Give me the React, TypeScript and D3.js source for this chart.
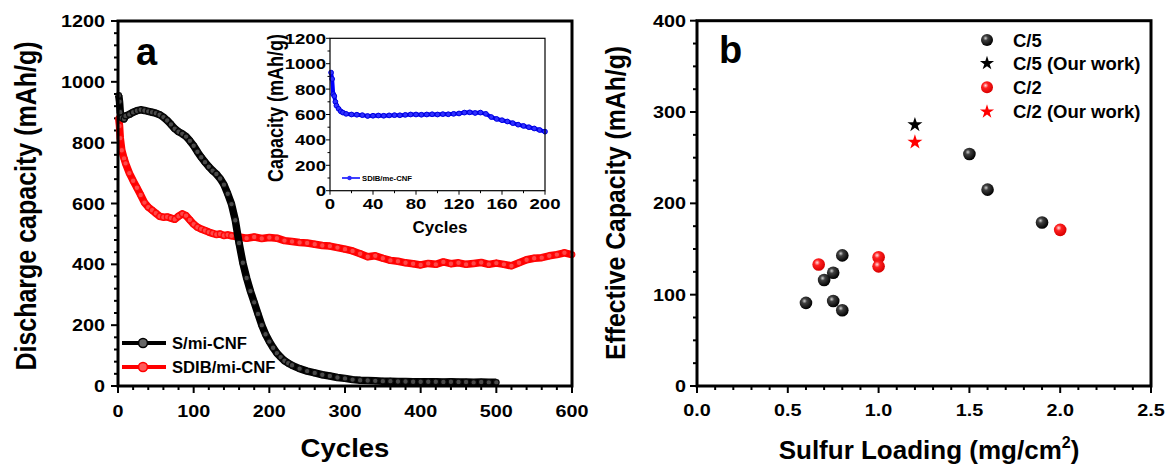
import React from 'react'
import * as d3 from 'd3'

const FONT = "Arial, 'Liberation Sans', Helvetica, sans-serif"

// panel a: S/mi-CNF (black)
const sCycles = [1, 2, 3, 5, 8, 10,
  15, 20, 25, 30, 35, 40, 45, 50, 55, 60, 65, 70, 75, 80, 85, 90, 95, 100, 105, 110,
  115, 120, 125, 130, 135, 140, 145, 150, 155, 160, 165, 170, 175, 180, 185, 190, 195, 200,
  205, 210, 215, 220, 225, 230,
  240, 250, 260, 270, 280, 290, 300, 310, 320, 330, 340, 350, 360, 370, 380, 390, 400,
  410, 420, 430, 440, 450, 460, 470, 480, 490, 500]
const sCapacity = [955, 935, 900, 882, 878, 888,
  893, 900, 905, 908, 906, 903, 900, 897, 892, 884,
  873, 860, 846, 836, 829, 820, 806, 790, 770, 752,
  736, 721, 708, 697, 682, 662, 632, 598, 545, 470,
  405, 355, 312, 275, 237, 200, 170, 146, 126, 108,
  95, 83, 75, 68,
  57, 49, 43, 37, 33, 28, 25, 21, 19, 18,
  17, 16, 16, 15, 15, 14, 14, 14, 14, 13,
  14, 13, 13, 12, 13, 12, 12]

// panel a: SDIB/mi-CNF (red)
const rCycles = [1, 2, 3, 5, 8, 10,
  15, 20, 25, 30, 35, 40, 45, 50, 55, 60, 65, 70, 75, 80, 85, 90, 95, 100, 105, 110,
  115, 120, 125, 130, 135, 140, 145, 150,
  160, 170, 180, 190, 200, 210, 220, 230, 240, 250, 260, 270, 280, 290, 300, 310, 320,
  330, 340, 350, 360, 370, 380, 390, 400, 410, 420, 430, 440, 450, 460, 470, 480, 490,
  500, 510, 520, 530, 540, 550, 560, 570, 580, 590, 600]
const rCapacity = [880, 855, 815, 775, 748, 732,
  700, 675, 652, 628, 603, 588, 578, 568, 558, 555,
  556, 552, 548, 558, 566, 560, 546, 532, 522, 516,
  511, 506, 502, 498, 500, 495, 497, 494,
  490, 486, 490, 485, 488, 486, 478, 475, 472, 470,
  466, 462, 460, 455, 450, 444, 435, 425, 428, 420,
  413, 410, 405, 402, 398, 403, 400, 408, 402, 405,
  400, 403, 406, 400, 404, 400, 395, 405, 415, 420,
  422, 428, 432, 438, 432]

// inset: SDIB/me-CNF (blue)
const bCycles = [1, 2, 3, 4, 5, 6, 8, 10, 12, 15,
  20, 25, 30, 35, 40, 45, 50, 55, 60, 65, 70, 75, 80, 85, 90, 95, 100, 105, 110, 115,
  120, 125, 130, 135, 140, 145, 150, 155, 160, 165, 170, 175, 180, 185, 190, 195, 200]
const bCapacity = [930, 880, 760, 745, 700, 670, 645, 625, 615, 605,
  600, 598, 595, 588, 590, 592, 590, 593, 595, 594,
  597, 600, 600, 598, 600, 602, 600, 603, 602, 605,
  608, 615, 617, 612, 615, 605, 580, 565, 555, 545,
  532, 520, 510, 500, 490, 478, 465]

// panel b
const c5Loading = [0.6, 0.7, 0.75, 0.75, 0.8, 0.8, 1.5, 1.6, 1.9]
const c5Capacity = [91, 116, 124, 93, 143, 83, 254, 215, 179]
const c2Loading = [0.67, 1.0, 1.0, 2.0]
const c2Capacity = [133, 141, 131, 171]
const ourLoading = 1.2
const ourC5 = 286
const ourC2 = 267

const legendB = ['C/5', 'C/5 (Our work)', 'C/2', 'C/2 (Our work)']
const aYTicks = [0, 200, 400, 600, 800, 1000, 1200]
const aXTicks = [0, 100, 200, 300, 400, 500, 600]
const inYTicks = [0, 200, 400, 600, 800, 1000, 1200]
const inXTicks = [0, 40, 80, 120, 160, 200]
const bYTicks = [0, 100, 200, 300, 400]
const bXTicks = ['0.0', '0.5', '1.0', '1.5', '2.0', '2.5']

function T({ x, y, size, sx = 1, anchor = 'start', rot = false, weight = 'bold', fill = '#000', children }: any) {
  return (
    <text transform={`translate(${x},${y}) scale(${sx},1)${rot ? ' rotate(-90)' : ''}`}
      fontSize={size} fontWeight={weight} textAnchor={anchor} fontFamily={FONT} fill={fill}>
      {children}
    </text>
  )
}

export default function App() {
  const W = 1168, H = 467

  // panel a scales
  const xA = d3.scaleLinear().domain([0, 600]).range([118, 572])
  const yA = d3.scaleLinear().domain([0, 1200]).range([386, 21])
  // inset
  const xI = d3.scaleLinear().domain([0, 200]).range([330, 545])
  const yI = d3.scaleLinear().domain([0, 1200]).range([190.7, 38.3])
  // panel b
  const xB = d3.scaleLinear().domain([0, 2.5]).range([697, 1151])
  const yB = d3.scaleLinear().domain([0, 400]).range([386, 20.7])

  const sPts = sCycles.map((c, i) => [c, sCapacity[i]])
  const rPts = rCycles.map((c, i) => [c, rCapacity[i]])
  const bPts = bCycles.map((c, i) => [c, bCapacity[i]])

  const lineA = d3.line<number[]>().x(d => xA(d[0])).y(d => yA(d[1]))
  const lineI = d3.line<number[]>().x(d => xI(d[0])).y(d => yI(d[1]))

  const star = d3.symbol().type(d3.symbolStar).size(70)()
  const starLeg = d3.symbol().type(d3.symbolStar).size(62)()

  const tickStyle = { stroke: '#000', strokeWidth: 2 }

  return (
    <svg width={W} height={H} style={{ position: 'absolute', left: 0, top: 0, background: '#fff' }}>
      <defs>
        <radialGradient id="ballK" cx="38%" cy="35%" r="65%">
          <stop offset="0%" stopColor="#d0d0d0" />
          <stop offset="30%" stopColor="#404040" />
          <stop offset="100%" stopColor="#000" />
        </radialGradient>
        <radialGradient id="ballR" cx="38%" cy="35%" r="65%">
          <stop offset="0%" stopColor="#ffe0e0" />
          <stop offset="35%" stopColor="#ff2020" />
          <stop offset="100%" stopColor="#d80000" />
        </radialGradient>
      </defs>
      <rect width={W} height={H} fill="#fff" />

      {/* ---------- panel a ---------- */}
      {d3.range(0, 1201, 40).map(v => {
        const major = v % 200 === 0
        return <line key={'ay' + v} x1={118} x2={118 - (major ? 7 : 4)} y1={yA(v)} y2={yA(v)} {...tickStyle} />
      })}
      {d3.range(0, 601, 20).map(v => {
        const major = v % 100 === 0
        return <line key={'ax' + v} x1={xA(v)} x2={xA(v)} y1={386} y2={386 + (major ? 7 : 4)} {...tickStyle} />
      })}
      {aYTicks.map(v => <T key={'ayl' + v} x={105} y={yA(v) + 6} size={16.5} sx={1.2} anchor="end">{v}</T>)}
      {aXTicks.map(v => <T key={'axl' + v} x={xA(v)} y={417} size={16.5} sx={1.2} anchor="middle">{v}</T>)}
      <T x={36} y={206} size={25} sx={1.2} rot anchor="middle">Discharge capacity (mAh/g)</T>
      <T x={345} y={457} size={26} sx={1.06} anchor="middle">Cycles</T>
      <T x={136} y={65} size={38}>a</T>

      {/* red series */}
      <path d={lineA(rPts) || ''} fill="none" stroke="#ff0000" strokeWidth={7.5} strokeLinejoin="round" />
      {rPts.map((d, i) => <circle key={'r' + i} cx={xA(d[0])} cy={yA(d[1])} r={2.8} fill="#ff4848" stroke="#ff0808" strokeWidth={1.2} />)}
      {/* black series */}
      <path d={lineA(sPts) || ''} fill="none" stroke="#000" strokeWidth={7.5} strokeLinejoin="round" />
      {sPts.map((d, i) => <circle key={'s' + i} cx={xA(d[0])} cy={yA(d[1])} r={2.8} fill="#4a4a4a" stroke="#0a0a0a" strokeWidth={1.2} />)}

      {/* legend a */}
      <line x1={122} x2={166} y1={343} y2={343} stroke="#000" strokeWidth={4} />
      <circle cx={143} cy={343} r={4.5} fill="#666" stroke="#000" strokeWidth={1.6} />
      <T x={172} y={349} size={16} sx={1.04}>S/mi-CNF</T>
      <line x1={122} x2={166} y1={367} y2={367} stroke="#ff0000" strokeWidth={4} />
      <circle cx={143} cy={367} r={4.5} fill="#ff5a5a" stroke="#ff0000" strokeWidth={1.6} />
      <T x={172} y={373} size={16} sx={1.04}>SDIB/mi-CNF</T>

      <rect x={118} y={21} width={454} height={365} fill="none" stroke="#000" strokeWidth={3} />

      {/* ---------- inset ---------- */}
      {d3.range(0, 1201, 100).map(v => {
        const major = v % 200 === 0
        return <line key={'iy' + v} x1={330} x2={330 - (major ? 4 : 2.5)} y1={yI(v)} y2={yI(v)} stroke="#000" strokeWidth={1} />
      })}
      {d3.range(0, 201, 20).map(v => {
        const major = v % 40 === 0
        return <line key={'ix' + v} x1={xI(v)} x2={xI(v)} y1={190.7} y2={190.7 + (major ? 4 : 2.5)} stroke="#000" strokeWidth={1} />
      })}
      {inYTicks.map(v => <T key={'iyl' + v} x={326} y={yI(v) + 5.5} size={15.5} sx={1.2} anchor="end">{v}</T>)}
      {inXTicks.map(v => <T key={'ixl' + v} x={xI(v)} y={209} size={15.5} sx={1.2} anchor="middle">{v}</T>)}
      <T x={283} y={108} size={18} sx={1.25} rot anchor="middle">Capacity (mAh/g)</T>
      <T x={440} y={233} size={17} anchor="middle">Cycles</T>
      <path d={lineI(bPts) || ''} fill="none" stroke="#0000ff" strokeWidth={4} strokeLinejoin="round" />
      {bPts.map((d, i) => <circle key={'b' + i} cx={xI(d[0])} cy={yI(d[1])} r={2.4} fill="#3030ff" stroke="#0000e0" strokeWidth={1} />)}
      <line x1={342} x2={360} y1={178} y2={178} stroke="#0000ff" strokeWidth={1.5} />
      <circle cx={349.5} cy={178} r={2.2} fill="#2a2aff" />
      <T x={362} y={181} size={7.7}>SDIB/me-CNF</T>
      <rect x={330} y={38.3} width={215} height={152.4} fill="none" stroke="#000" strokeWidth={1.2} />

      {/* ---------- panel b ---------- */}
      {d3.range(0, 401, 25).map(v => {
        const major = v % 100 === 0
        return <line key={'by' + v} x1={697} x2={697 - (major ? 7 : 4)} y1={yB(v)} y2={yB(v)} {...tickStyle} />
      })}
      {d3.range(0, 26, 1).map(k => {
        const major = k % 5 === 0
        const x = xB(k / 10)
        return <line key={'bx' + k} x1={x} x2={x} y1={386} y2={386 + (major ? 7 : 4)} {...tickStyle} />
      })}
      {bYTicks.map(v => <T key={'byl' + v} x={686} y={yB(v) + 6} size={16.5} sx={1.2} anchor="end">{v}</T>)}
      {bXTicks.map(v => <T key={'bxl' + v} x={xB(+v)} y={416} size={16.5} sx={1.2} anchor="middle">{v}</T>)}
      <T x={625} y={203} size={24.8} sx={1.15} rot anchor="middle">Effective Capacity (mAh/g)</T>
      <text x={929} y={459} fontSize={26} fontWeight="bold" textAnchor="middle" fontFamily={FONT}>
        Sulfur Loading (mg/cm<tspan fontSize={16} dy={-11}>2</tspan><tspan dy={11}>)</tspan>
      </text>
      <T x={719} y={63} size={38}>b</T>

      {c5Loading.map((l, i) => <circle key={'c5' + i} cx={xB(l)} cy={yB(c5Capacity[i])} r={6.3} fill="url(#ballK)" />)}
      {c2Loading.map((l, i) => <circle key={'c2' + i} cx={xB(l)} cy={yB(c2Capacity[i])} r={6.3} fill="url(#ballR)" />)}
      <path d={star || ''} transform={`translate(${xB(ourLoading)},${yB(ourC5)})`} fill="#000" />
      <path d={star || ''} transform={`translate(${xB(ourLoading)},${yB(ourC2)})`} fill="#ff0000" />

      {/* legend b */}
      <circle cx={987} cy={40} r={6} fill="url(#ballK)" />
      <path d={starLeg || ''} transform="translate(987,63.3)" fill="#000" />
      <circle cx={987} cy={87.3} r={6} fill="url(#ballR)" />
      <path d={starLeg || ''} transform="translate(987,111.7)" fill="#ff0000" />
      {legendB.map((t, i) => <T key={'lb' + i} x={1013} y={[40, 63.3, 87.3, 111.7][i] + 6.5} size={18.5}>{t}</T>)}

      <rect x={697} y={20.7} width={454} height={365.3} fill="none" stroke="#000" strokeWidth={3} />
    </svg>
  )
}
